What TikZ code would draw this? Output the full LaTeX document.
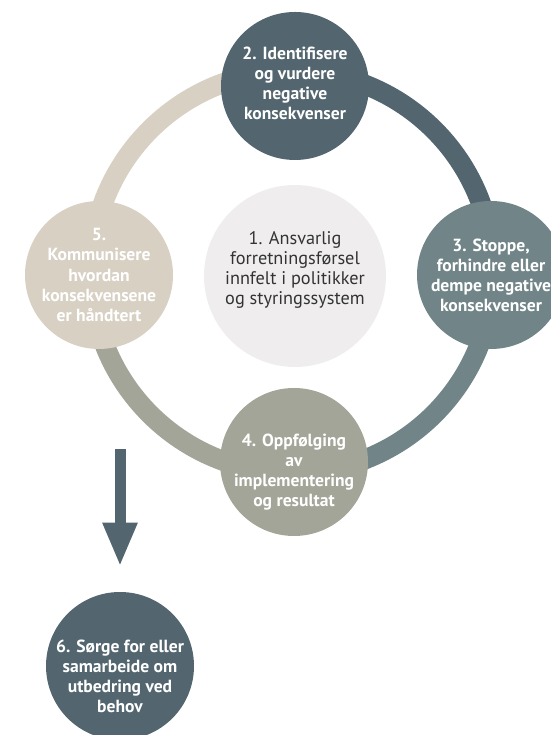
\documentclass[tikz,border=0pt]{standalone}
\usepackage{fontspec}
\setmainfont{PT Sans}
\usetikzlibrary{arrows.meta}
\definecolor{morkgra}{HTML}{536670}
\definecolor{blagra}{HTML}{718589}
\definecolor{olivengra}{HTML}{A3A598}
\definecolor{sand}{HTML}{D8D0C3}
\definecolor{lysgra}{HTML}{EFEDEE}
\definecolor{tekstgra}{HTML}{333333}

\begin{document}
\begin{tikzpicture}[
  ring/.style = {line width = 0.4cm},
  steg/.style = {circle, minimum size = 2.96cm, inner sep = 0pt},
  stegtekst/.style = {align = center, text = white, font = \bfseries\fontsize{10}{11.4}\selectfont}]
\useasboundingbox (0,0) rectangle (11,14.7);
%画布大小(11,14.7),与原图比例一致
\coordinate (midt) at (5.84,9.26);
%圆环中心(midt)
\draw[ring, morkgra] ([shift = {(0:4.02)}]midt) arc[start angle = 0, end angle = 90, radius = 4.02];
\draw[ring, sand] ([shift = {(90:4.02)}]midt) arc[start angle = 90, end angle = 180, radius = 4.02];
\draw[ring, olivengra] ([shift = {(180:4.02)}]midt) arc[start angle = 180, end angle = 270, radius = 4.02];
\draw[ring, blagra] ([shift = {(270:4.02)}]midt) arc[start angle = 270, end angle = 360, radius = 4.02];
%四段圆弧(arc),每段颜色与其起点的圆相同
\node[circle, minimum size = 3.64cm, inner sep = 0pt, fill = lysgra] (n1) at (5.9,9.18) {};
\node[align = center, text = tekstgra, font = \fontsize{10.4}{11.4}\selectfont] (t1) at ([yshift = 0.13cm]n1) {1. Ansvarlig\\forretningsførsel\\innfelt i politikker\\og styringssystem};
%中间的浅灰色圆(n1)和文字(t1)
\node[steg, fill = morkgra] (n2) at (5.9,12.98) {};
\node[stegtekst] (t2) at ([yshift = 0.06cm]n2) {2. Identifisere\\og vurdere\\negative\\konsekvenser};
\node[steg, fill = blagra] (n3) at (9.82,9.2) {};
\node[stegtekst] (t3) at (n3) {3. Stoppe,\\forhindre eller\\dempe negative\\konsekvenser};
\node[steg, fill = olivengra] (n4) at (5.88,5.46) {};
\node[stegtekst] (t4) at ([yshift = -0.2cm]n4) {4. Oppfølging\\av\\implementering\\og resultat};
\node[steg, fill = sand] (n5) at (1.98,9.2) {};
\node[stegtekst] (t5) at (n5) {5.\\Kommunisere\\hvordan\\konsekvensene\\er håndtert};
%圆环上的四个圆(n2)到(n5),文字放在圆内
\node[steg, fill = morkgra] (n6) at (2.4,1.38) {};
\node[stegtekst] (t6) at ([yshift = -0.2cm]n6) {6. Sørge for eller\\samarbeide om\\utbedring ved\\behov};
%下方的圆(n6)
\coordinate (pilstart) at (2.4,5.72);
\draw[-{Triangle[width = 0.64cm, length = 0.88cm]}, line width = 0.22cm, morkgra] (pilstart) -- ([yshift = 0.5cm]n6.north);
%粗箭头(->)从(pilstart)指向(n6)
\end{tikzpicture}
\end{document}
